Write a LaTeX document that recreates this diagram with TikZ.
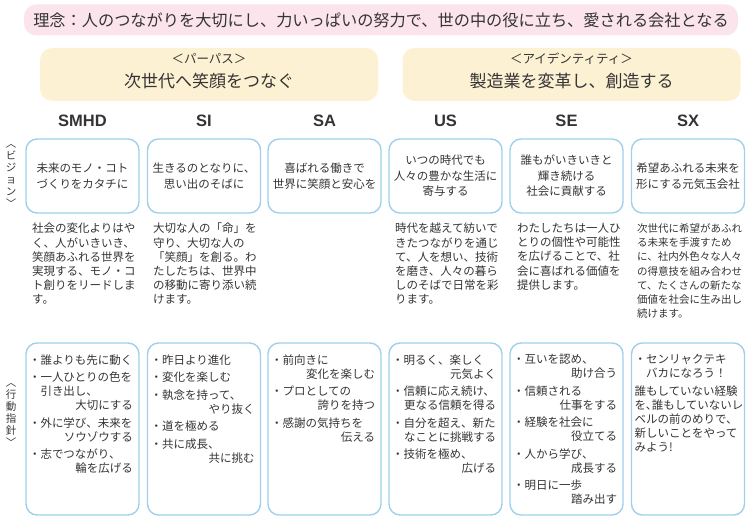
\documentclass[tikz,border=0pt]{standalone}
\usepackage{fontspec}
\usepackage{xcolor}
\usepackage{tikz}
\usetikzlibrary{positioning}
\newfontfamily\jp{Noto Sans CJK JP}
\newfontfamily\hd{Liberation Sans}
\definecolor{skyline}{RGB}{158,208,236}
\definecolor{blushpink}{RGB}{251,228,235}
\definecolor{creamy}{RGB}{253,241,212}
\definecolor{inkgray}{RGB}{52,52,52}
\newlength\linew
\setlength\linew{104pt}
\newcommand\rl[1]{\makebox[\linew][r]{#1}}

\begin{document}
\begin{tikzpicture}[x=1pt, y=-1pt,
  every node/.style={text=inkgray},
  banner/.style={rectangle, rounded corners=12pt, fill=blushpink, minimum width=714pt, minimum height=31pt, font=\jp\fontsize{16.2}{20}\selectfont},
  purpose/.style={rectangle, rounded corners=12pt, fill=creamy, minimum width=338pt, minimum height=53pt},
  purptag/.style={font=\jp\fontsize{12.5}{14}\selectfont},
  purptxt/.style={font=\jp\fontsize{17}{20}\selectfont},
  colhead/.style={font=\hd\bfseries\fontsize{16.5}{18}\selectfont},
  visbox/.style={draw=skyline, line width=1.4pt, rounded corners=11pt, minimum width=113pt, minimum height=74pt, align=center, inner sep=2pt, font=\jp\fontsize{11.5}{15.5}\selectfont},
  actbox/.style={draw=skyline, line width=1.4pt, rounded corners=11pt, minimum width=113pt, minimum height=172pt},
  desc/.style={anchor=north west, inner sep=0pt, align=left, font=\jp\fontsize{11.5}{14.2}\selectfont},
  acts/.style={anchor=north west, inner sep=0pt, align=left, font=\jp\fontsize{11.5}{14}\selectfont},
  side/.style={align=center, inner sep=0pt, font=\jp\fontsize{10.5}{12}\selectfont},
]
\useasboundingbox (0,0) rectangle (753,521);

% philosophy, purpose, identity
\node[banner] (rinen) at (381,20) {理念：人のつながりを大切にし、力いっぱいの努力で、世の中の役に立ち、愛される会社となる};
\node[purpose] (purpL) at (209,74.5) {};
\node[purptag] (purpLtag) at (209,59) {＜パーパス＞};
\node[purptxt] (purpLtxt) at (209,81) {次世代へ笑顔をつなぐ};
\node[purpose] (purpR) at (571.5,74.5) {};
\node[purptag] (purpRtag) at (571.5,59) {＜アイデンティティ＞};
\node[purptxt] (purpRtxt) at (571.5,81) {製造業を変革し、創造する};

% column heads
\node[colhead] (hSMHD) at (82.5,121) {SMHD};
\node[colhead] (hSI) at (204,121) {SI};
\node[colhead] (hSA) at (324.5,121) {SA};
\node[colhead] (hUS) at (445.5,121) {US};
\node[colhead] (hSE) at (566.5,121) {SE};
\node[colhead] (hSX) at (688,121) {SX};

% vision
\node[side] (visLabel) at (11,176) {︿\\ビ\\ジ\\ョ\\ン\\﹀};
\node[visbox] (smhdVis) at (82.5,176) {未来のモノ・コト\\づくりをカタチに};
\node[visbox] (siVis) at (204,176) {生きるのとなりに、\\思い出のそばに};
\node[visbox] (saVis) at (324.5,176) {喜ばれる働きで\\世界に笑顔と安心を};
\node[visbox] (usVis) at (445.5,176) {いつの時代でも\\人々の豊かな生活に\\寄与する};
\node[visbox] (seVis) at (566.5,176) {誰もがいきいきと\\輝き続ける\\社会に貢献する};
\node[visbox] (sxVis) at (688,176) {希望あふれる未来を\\形にする元気玉会社};

% statements
\node[desc] (smhdDesc) at (32,223) {社会の変化よりはや\\く、人がいきいき、\\笑顔あふれる世界を\\実現する、モノ・コ\\ト創りをリードしま\\す。};
\node[desc] (siDesc) at (153,223) {大切な人の「命」を\\守り、大切な人の\\「笑顔」を創る。わ\\たしたちは、世界中\\の移動に寄り添い続\\けます。};
\node[desc] (usDesc) at (395,223) {時代を越えて紡いで\\きたつながりを通じ\\て、人を想い、技術\\を磨き、人々の暮ら\\しのそばで日常を彩\\ります。};
\node[desc] (seDesc) at (517,223) {わたしたちは一人ひ\\とりの個性や可能性\\を広げることで、社\\会に喜ばれる価値を\\提供します。};
\node[desc, font=\jp\fontsize{10.5}{14.2}\selectfont] (sxDesc) at (637,223.5) {次世代に希望があふれ\\る未来を手渡すため\\に、社内外色々な人々\\の得意技を組み合わせ\\て、たくさんの新たな\\価値を社会に生み出し\\続けます。};

% code of conduct
\node[side] (actLabel) at (11,415) {︿\\行\\動\\指\\針\\﹀};
\node[actbox] (smhdAct) at (82.5,429) {};
\node[actbox] (siAct) at (204,429) {};
\node[actbox] (saAct) at (324.5,429) {};
\node[actbox] (usAct) at (445.5,429) {};
\node[actbox] (seAct) at (566.5,429) {};
\node[actbox] (sxAct) at (688,429) {};

\node[acts] (smhdList) at ([shift={(3.5,12)}]smhdAct.north west) {%
・誰よりも先に動く\\[3.5pt]
・一人ひとりの色を\\
\phantom{・}引き出し、\\
\rl{大切にする}\\[3.5pt]
・外に学び、未来を\\
\rl{ソウゾウする}\\[3.5pt]
・志でつながり、\\
\rl{輪を広げる}};
\node[acts] (siList) at ([shift={(3.5,12)}]siAct.north west) {%
・昨日より進化\\[3.5pt]
・変化を楽しむ\\[3.5pt]
・執念を持って、\\
\rl{やり抜く}\\[3.5pt]
・道を極める\\[3.5pt]
・共に成長、\\
\rl{共に挑む}};
\node[acts] (saList) at ([shift={(3.5,12)}]saAct.north west) {%
・前向きに\\
\rl{変化を楽しむ}\\[3.5pt]
・プロとしての\\
\rl{誇りを持つ}\\[3.5pt]
・感謝の気持ちを\\
\rl{伝える}};
\node[acts] (usList) at ([shift={(3.5,12)}]usAct.north west) {%
・明るく、楽しく\\
\rl{元気よく}\\[3.5pt]
・信頼に応え続け、\\
\rl{更なる信頼を得る}\\[3.5pt]
・自分を超え、新た\\
\rl{なことに挑戦する}\\[3.5pt]
・技術を極め、\\
\rl{広げる}};
\node[acts] (seList) at ([shift={(3.5,12)}]seAct.north west) {%
・互いを認め、\\
\rl{助け合う}\\[3.5pt]
・信頼される\\
\rl{仕事をする}\\[3.5pt]
・経験を社会に\\
\rl{役立てる}\\[3.5pt]
・人から学び、\\
\rl{成長する}\\[3.5pt]
・明日に一歩\\
\rl{踏み出す}};
\node[acts] (sxList) at ([shift={(3.5,12)}]sxAct.north west) {%
・センリャクテキ\\
\phantom{・}バカになろう！\\[3.5pt]
誰もしていない経験\\
を､誰もしていないレ\\
ベルの前のめりで、\\
新しいことをやって\\
みよう!};
\end{tikzpicture}
\end{document}
